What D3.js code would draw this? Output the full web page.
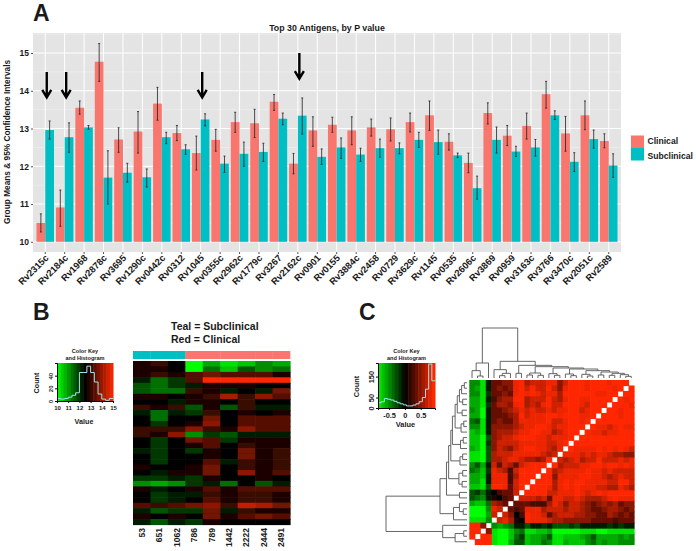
<!DOCTYPE html>
<html>
<head>
<meta charset="utf-8">
<script src="https://cdn.jsdelivr.net/npm/d3@7"></script>
<style>
  html, body { margin: 0; padding: 0; background: #fff; }
  svg { display: block; }
  text { font-family: "Liberation Sans", Arial, sans-serif; font-weight: bold; fill: #1a1a1a; }
</style>
</head>
<body>
<div id="chart"></div>
<script>
// Panel A
const antigens = ["Rv2315c","Rv2184c","Rv1968","Rv2878c","Rv3695","Rv1290c","Rv0442c","Rv0312","Rv1045","Rv0355c","Rv2962c","Rv1779c","Rv3267","Rv2162c","Rv0901","Rv0155","Rv3884c","Rv2458","Rv0729","Rv3629c","Rv1145","Rv0535","Rv2606c","Rv3869","Rv0959","Rv3163c","Rv3766","Rv3470c","Rv2051c","Rv2589"];
const clinicalMean = [10.5,10.91,13.55,14.77,12.71,12.92,13.66,12.88,12.35,12.7,13.17,13.14,13.71,12.07,12.95,13.1,12.95,13.03,12.98,13.17,13.35,12.65,12.09,13.41,12.81,13.07,13.91,12.87,13.35,12.67];
const clinicalLow = [10.26,10.41,13.38,14.25,12.37,12.35,13.22,12.68,11.9,12.4,12.9,12.76,13.48,11.8,12.53,12.9,12.57,12.8,12.67,12.91,12.95,12.43,11.83,13.12,12.55,12.72,13.54,12.4,12.97,12.49];
const clinicalHigh = [10.74,11.37,13.73,15.25,13.02,13.45,14.09,13.08,12.8,12.98,13.43,13.51,13.9,12.34,13.31,13.3,13.31,13.25,13.28,13.41,13.73,12.86,12.35,13.68,13.08,13.41,14.25,13.32,13.73,12.86];
const subclinicalMean = [12.96,12.77,13.03,11.7,11.83,11.71,12.77,12.45,13.24,12.07,12.33,12.38,13.26,13.34,12.25,12.5,12.31,12.48,12.48,12.7,12.64,12.29,11.42,12.7,12.39,12.5,13.35,12.12,12.72,12.02];
const subclinicalLow = [12.72,12.37,12.98,11.0,11.58,11.45,12.6,12.32,13.07,11.84,12.0,12.13,13.1,12.85,12.05,12.21,12.13,12.24,12.33,12.5,12.32,12.23,11.13,12.35,12.26,12.27,13.24,11.86,12.48,11.71];
const subclinicalHigh = [13.2,13.15,13.08,12.41,12.08,11.93,12.9,12.57,13.39,12.27,12.64,12.61,13.41,13.81,12.46,12.75,12.48,12.72,12.62,12.9,12.96,12.35,11.74,13.04,12.53,12.71,13.47,12.36,12.96,12.33];
const arrowAntigens = ["Rv2315c","Rv2184c","Rv1045","Rv2162c"];
const arrowTop = [14.5,14.5,14.5,15];
const arrowTip = [13.81,13.81,13.81,14.31];
const yTicksA = [10,11,12,13,14,15];
const yMinorA = [10.5,11.5,12.5,13.5,14.5,15.5];

// Panel B, intensity -9 (green) to 9 (red), one line per antigen
const sampleLabels = ["53","651","1062","786","789","1442","2222","2444","2491"];
const sampleGroups = ["Subclinical","Subclinical","Subclinical","Clinical","Clinical","Clinical","Clinical","Clinical","Clinical"];
const heatB = [
  [1,2,0,-9,-6,-8,-7,-5,-6],
  [1,1,0,-9,-4,-7,-3,-5,-4],
  [1,2,1,3,4,3,3,3,1],
  [-1,-4,-2,3,9,9,9,9,9],
  [-3,-4,-2,-1,1,1,1,0,0],
  [-3,-4,-4,2,1,-1,0,-1,4],
  [1,1,0,1,2,6,2,5,3],
  [0,0,-1,1,1,0,2,0,0],
  [2,1,2,-3,1,-3,2,-1,-1],
  [-1,-4,-1,-2,2,0,1,0,1],
  [0,-4,0,0,4,0,3,3,3],
  [0,-2,0,1,5,0,3,3,3],
  [2,2,2,5,2,1,5,3,3],
  [2,1,5,-5,-2,-3,-1,-1,-1],
  [0,-2,0,4,3,-2,1,1,1],
  [0,-2,0,1,3,0,2,1,1],
  [-1,-2,0,-2,1,0,4,1,2],
  [0,-2,0,0,1,0,4,1,2],
  [0,-2,0,0,3,-1,2,1,2],
  [1,0,0,1,4,0,2,1,2],
  [0,-1,1,1,4,0,5,1,3],
  [-2,-2,-1,-2,1,0,0,1,0],
  [-5,-6,-5,-2,-1,-4,0,-3,-1],
  [1,-1,0,1,3,1,3,3,3],
  [0,-2,-1,-1,2,1,2,2,1],
  [0,-2,-1,0,3,1,2,2,1],
  [3,2,3,4,5,2,7,6,4],
  [-1,-3,-2,-2,4,-1,2,1,1],
  [1,0,1,0,4,1,3,4,3],
  [-1,-3,-1,-2,1,0,0,0,0]
];
const histB = [4,3,4,6,9,13,45,45,55,45,30,11,3,1,4];
const histBTicks = [10,11,12,13,14,15];
const histBCount = [0,20,40];

// Panel C, upper-left triangle of the correlation map, the rest is its mirror
const heatC = [
  [-5,-5,-8,-1,3,3,4,4,7,8,5,6,6,6,7,7,4,6,8,8,8,7,8,8,8,7,8,8,8],
  [-5,-6,-8,-1,3,4,3,4,7,8,6,8,6,6,8,6,4,7,9,9,8,7,8,8,8,8,7,8],
  [-5,-5,-8,-2,3,3,4,3,7,8,7,8,7,6,7,7,5,8,9,8,8,8,8,7,7,8,8],
  [-6,-6,-8,-1,2,4,5,5,8,8,5,6,6,6,8,6,5,7,8,8,7,7,8,8,8,8],
  [-6,-6,-8,-2,3,5,5,4,7,8,5,6,5,7,8,6,6,8,9,8,7,6,8,8,8],
  [-5,-6,-9,-1,3,3,4,5,6,7,6,7,6,6,7,6,7,7,8,8,6,7,8,8],
  [-6,-6,-9,-1,3,3,3,4,5,8,6,7,7,7,8,8,7,8,8,8,7,7,8],
  [-4,-3,-8,-1,3,4,3,3,5,7,7,7,7,7,8,6,6,7,8,8,7,8],
  [-5,-5,-8,-1,4,4,4,4,5,6,7,7,8,8,7,6,7,7,8,8,8],
  [-7,-6,-8,-1,4,5,5,5,6,7,7,8,8,7,7,5,6,7,8,8],
  [-7,-7,-9,-3,4,5,6,6,7,8,8,8,7,7,6,7,7,7,8],
  [-7,-7,-9,-2,4,6,6,6,6,7,7,7,7,7,6,6,7,8],
  [-6,-7,-9,-3,4,6,5,4,6,7,8,8,7,7,6,5,7],
  [-8,-8,-9,-3,5,6,6,6,7,7,7,7,7,6,5,6],
  [-8,-8,-9,-3,5,5,6,7,7,6,5,5,4,5,8],
  [-5,-3,-6,-1,6,3,6,5,3,6,7,8,8,8],
  [-4,-5,-7,-2,7,6,5,2,6,8,8,9,9],
  [-6,-6,-7,-1,7,7,7,2,5,8,8,9],
  [-6,-6,-8,-1,7,7,7,2,6,8,9],
  [-7,-7,-8,-3,8,8,7,3,6,8],
  [-3,-2,-4,-1,0,2,3,3,6],
  [-3,-4,-5,-1,1,0,2,3],
  [-6,-7,-7,-4,5,4,3],
  [-9,-9,-9,-5,7,6],
  [-9,-9,-9,-6,6],
  [-8,-8,-8,-5],
  [9,9,4],
  [9,9],
  [9],
  []
];
// [merge height, left, right], plain numbers are leaves
const treeC = [150,
  [45,[22,0,[6,1,2]],3],
  [50,
    [25,4,[14,[7,5,6],7]],
    [38,[14,8,9],
      [34,[15,[9,10,11],[8,12,13]],
        [30,[13,14,[8,15,16]],
          [27,[12,17,[7,18,19]],
            [22,[11,20,[6,21,22]],
              [18,[9,23,24],
                [14,[8,25,26],
                  [10,27,[5,28,29]]]]]]]]]]];
const histC = [25,30,45,42,38,32,25,20,15,10,10,14,20,30,50,90,210,130];
const histCTicks = [-0.5,0,0.5];
const histCCount = [0,50,150];

const red = "#F8766D", teal = "#00BFC4";
const svg = d3.select("#chart").append("svg").attr("width", 696).attr("height", 551);
const heatColor = d3.scaleLinear().domain([-9,0,9]).range(["#00ff00","#000000","#ff2800"]);
const corrColor = d3.scaleLinear().domain([-9,0,7.5]).range(["#00ff00","#000000","#ff2800"]).clamp(true);

const soft = svg.append("defs").append("filter").attr("id", "soft");
soft.append("feGaussianBlur").attr("stdDeviation", 0.6);

function panelLetter(txt, x, y) {
    svg.append("text").attr("x", x).attr("y", y).attr("font-size", 23).text(txt);
}
panelLetter("A", 33, 21);
panelLetter("B", 33, 320);
panelLetter("C", 359, 320);

// ---- A: bars
function drawBars() {
    const x = d3.scaleBand().domain(antigens).range([33, 621]).paddingInner(0.1).paddingOuter(0.18);
    const y = d3.scaleLinear().domain([9.73, 15.53]).range([252, 33]);
    const dodge = d3.scaleBand().domain(["Clinical","Subclinical"]).range([0, x.bandwidth()]);
    const g = svg.append("g");

    g.append("rect").attr("x", 33).attr("y", 33).attr("width", 588).attr("height", 219).attr("fill", "#e4e4e4");
    g.selectAll(".minor").data(yMinorA).join("line")
     .attr("x1", 33).attr("x2", 621).attr("y1", d => y(d)).attr("y2", d => y(d))
     .attr("stroke", "#f2f2f2").attr("stroke-width", 0.6);
    g.selectAll(".major").data(yTicksA).join("line")
     .attr("x1", 33).attr("x2", 621).attr("y1", d => y(d)).attr("y2", d => y(d))
     .attr("stroke", "#fff").attr("stroke-width", 1);
    g.selectAll(".vert").data(antigens).join("line")
     .attr("x1", d => x(d) + x.bandwidth() / 2).attr("x2", d => x(d) + x.bandwidth() / 2)
     .attr("y1", 33).attr("y2", 252).attr("stroke", "#fff").attr("stroke-width", 1);

    const series = [
        { name: "Clinical", color: red, mean: clinicalMean, low: clinicalLow, high: clinicalHigh },
        { name: "Subclinical", color: teal, mean: subclinicalMean, low: subclinicalLow, high: subclinicalHigh }
    ];
    series.forEach(s => {
        const cx = i => x(antigens[i]) + dodge(s.name);
        g.append("g").selectAll("rect").data(s.mean).join("rect")
         .attr("x", (d, i) => cx(i)).attr("width", dodge.bandwidth())
         .attr("y", d => y(d)).attr("height", d => y(10) - y(d)).attr("fill", s.color);
    });
    series.forEach(s => {
        const mid = i => x(antigens[i]) + dodge(s.name) + dodge.bandwidth() / 2;
        const bars = g.append("g").attr("stroke", "#222").attr("stroke-width", 0.8);
        bars.selectAll(".stem").data(s.mean).join("line")
            .attr("x1", (d, i) => mid(i)).attr("x2", (d, i) => mid(i))
            .attr("y1", (d, i) => y(s.low[i])).attr("y2", (d, i) => y(s.high[i]));
        [s.low, s.high].forEach(vals => {
            bars.append("g").selectAll("line").data(vals).join("line")
                .attr("x1", (d, i) => mid(i) - 1).attr("x2", (d, i) => mid(i) + 1)
                .attr("y1", d => y(d)).attr("y2", d => y(d));
        });
    });

    // axes
    const ay = svg.append("g").attr("transform", "translate(33,0)")
                  .call(d3.axisLeft(y).tickValues(yTicksA).tickFormat(d => d).tickSize(2).tickPadding(2));
    ay.select(".domain").remove();
    ay.selectAll("text").attr("font-size", 8.5);
    ay.selectAll("line").attr("stroke", "#555");

    const ax = svg.append("g").attr("transform", "translate(0,252)")
                  .call(d3.axisBottom(x).tickSize(2).tickPadding(2));
    ax.select(".domain").remove();
    ax.selectAll("line").attr("stroke", "#555");
    ax.selectAll("text").attr("font-size", 9.4).attr("text-anchor", "end")
      .attr("dy", "0.5em").attr("dx", "0.1em").attr("transform", "rotate(-45,0,4)");

    svg.append("text").attr("x", 327).attr("y", 32).attr("dy", -1).attr("text-anchor", "middle")
       .attr("font-size", 8.8).text("Top 30 Antigens, by P value");
    svg.append("text").attr("transform", "translate(10,142) rotate(-90)").attr("text-anchor", "middle")
       .attr("font-size", 8.3).text("Group Means & 95% Confidence Intervals");

    // arrows
    arrowAntigens.forEach((a, i) => {
        const ax0 = x(a) + x.bandwidth() / 2 + 1.5;
        const a1 = y(arrowTop[i]), a2 = y(arrowTip[i]);
        svg.append("path")
           .attr("d", `M${ax0},${a1}V${a2 - 1}M${ax0 - 4.5},${a2 - 8}L${ax0},${a2 - 0.5}L${ax0 + 4.5},${a2 - 8}`)
           .attr("fill", "none").attr("stroke", "#000").attr("stroke-width", 2.4);
    });

    // legend
    const lg = svg.append("g");
    series.forEach((s, i) => {
        lg.append("rect").attr("x", 631).attr("y", 135.5 + i * 12.5).attr("width", 13).attr("height", 12.5).attr("fill", s.color);
        lg.append("text").attr("x", 647.5).attr("y", 144 + i * 15).attr("font-size", 8.6).text(s.name);
    });
}

// ---- colour key with histogram, used by B and C
function drawKey(opts) {
    const x = d3.scaleLinear().domain(opts.domain).range([opts.x0, opts.x1]);
    const y = d3.scaleLinear().domain([0, opts.maxCount]).range([opts.y1, opts.y0]);
    const n = 17;
    const step = (opts.domain[1] - opts.domain[0]) / n;
    const colour = d3.scaleLinear().domain([opts.mid - opts.half, opts.mid, opts.mid + opts.half])
                     .range(["#00ff00","#000000","#ff2800"]).clamp(true);
    svg.append("g").selectAll("rect").data(d3.range(n)).join("rect")
       .attr("x", i => x(opts.domain[0] + i * step)).attr("width", (opts.x1 - opts.x0) / n + 0.5)
       .attr("y", opts.y0).attr("height", opts.y1 - opts.y0)
       .attr("fill", i => colour(opts.domain[0] + (i + 0.5) * step));

    const bw = (opts.domain[1] - opts.domain[0]) / opts.hist.length;
    const line = d3.line().curve(d3.curveStepAfter)
                   .x((d, i) => x(opts.domain[0] + i * bw)).y(d => y(d));
    svg.append("path").datum(opts.hist.concat([opts.hist[opts.hist.length - 1]]))
       .attr("d", line).attr("fill", "none").attr("stroke", "#9fe3e6").attr("stroke-width", 1);

    const ax = svg.append("g").attr("transform", `translate(0,${opts.y1})`)
                  .call(d3.axisBottom(x).tickValues(opts.ticks).tickFormat(d => d).tickSize(2).tickPadding(3));
    ax.selectAll("text").attr("font-size", opts.tickSize);
    const ay = svg.append("g").attr("transform", `translate(${opts.x0},0)`)
                  .call(d3.axisLeft(y).tickValues(opts.counts).tickFormat(d => d).tickSize(2).tickPadding(2));
    ay.selectAll("text").attr("font-size", opts.tickSize).attr("text-anchor", "middle")
      .attr("x", 0).attr("dy", 0).attr("transform", "translate(-4,0) rotate(-90)");

    const cx = (opts.x0 + opts.x1) / 2;
    svg.append("text").attr("x", cx).attr("y", opts.titleY).attr("text-anchor", "middle").attr("font-size", 5.6).text("Color Key");
    svg.append("text").attr("x", cx).attr("y", opts.titleY + 6.5).attr("text-anchor", "middle").attr("font-size", 5.6).text("and Histogram");
    svg.append("text").attr("x", cx - 1).attr("y", opts.valueY).attr("text-anchor", "middle").attr("font-size", opts.labelSize).text("Value");
    svg.append("text").attr("transform", `translate(${opts.countX},${(opts.y0 + opts.y1) / 2 + 1}) rotate(-90)`)
       .attr("text-anchor", "middle").attr("font-size", opts.labelSize).text("Count");
}

// ---- B: heatmap
function drawHeatB() {
    const x = d3.scaleBand().domain(d3.range(sampleLabels.length)).range([133, 290]);
    const y = d3.scaleBand().domain(d3.range(heatB.length)).range([361, 524.5]);

    svg.append("g").selectAll("rect").data(sampleGroups).join("rect")
       .attr("x", (d, i) => x(i)).attr("width", x.bandwidth() + 0.3)
       .attr("y", 351).attr("height", 8)
       .attr("fill", d => d === "Subclinical" ? teal : red);

    const cells = heatB.flatMap((row, r) => row.map((v, c) => ({ r, c, v })));
    svg.append("g").attr("filter", "url(#soft)").selectAll("rect").data(cells).join("rect")
       .attr("x", d => x(d.c)).attr("y", d => y(d.r))
       .attr("width", x.bandwidth() + 0.6).attr("height", y.bandwidth() + 0.6)
       .attr("fill", d => heatColor(d.v));

    svg.append("g").selectAll("text").data(sampleLabels).join("text")
       .attr("transform", (d, i) => `translate(${x(i) + x.bandwidth() / 2 + 3},528) rotate(-90)`)
       .attr("text-anchor", "end").attr("font-size", 8.5).text(d => d);

    svg.append("text").attr("x", 171).attr("y", 330).attr("font-size", 10.5).text("Teal = Subclinical");
    svg.append("text").attr("x", 171).attr("y", 343).attr("font-size", 10.5).text("Red = Clinical");

    drawKey({ domain: [10,15], mid: 12.5, half: 2.5, x0: 57, x1: 113, y0: 363, y1: 401, maxCount: 60, hist: histB,
              ticks: histBTicks, counts: histBCount, tickSize: 6, labelSize: 7.2,
              titleY: 353, valueY: 424, countX: 39 });
}

// ---- C: correlation map with dendrograms
function drawHeatC() {
    const n = heatC.length;
    const x = d3.scaleBand().domain(d3.range(n)).range([469.3, 634]);
    const y = d3.scaleBand().domain(d3.range(n)).range([380, 544.5]);

    const cells = [];
    heatC.forEach((row, r) => row.forEach((v, c) => {
        cells.push({ r, c, v });
        cells.push({ r: n - 1 - c, c: n - 1 - r, v });
    }));
    svg.append("g").attr("filter", "url(#soft)").selectAll("rect").data(cells).join("rect")
       .attr("x", d => x(d.c)).attr("y", d => y(d.r))
       .attr("width", x.bandwidth() + 0.6).attr("height", y.bandwidth() + 0.6)
       .attr("fill", d => corrColor(d.v));

    const topH = d3.scaleLinear().domain([0, 150]).range([378, 328]);
    const leftH = d3.scaleLinear().domain([0, 150]).range([467, 386]);

    // returns the leaf-axis position of a node, appends its bracket on the way
    function walk(node, place) {
        if (typeof node === "number") return { pos: node + 0.5, h: 0 };
        const a = walk(node[1], place), b = walk(node[2], place);
        place(a, b, node[0]);
        return { pos: (a.pos + b.pos) / 2, h: node[0] };
    }
    const topPos = d3.scaleLinear().domain([0, n]).range(x.range());
    const leftPos = d3.scaleLinear().domain([0, n]).range([y.range()[1], y.range()[0]]);
    const dendro = svg.append("g").attr("fill", "none").attr("stroke", "#555").attr("stroke-width", 0.9);
    walk(treeC, (a, b, h) => {
        dendro.append("path").attr("d",
            `M${topPos(a.pos)},${topH(a.h)}V${topH(h)}H${topPos(b.pos)}V${topH(b.h)}`);
        dendro.append("path").attr("d",
            `M${leftH(a.h)},${leftPos(a.pos)}H${leftH(h)}V${leftPos(b.pos)}H${leftH(b.h)}`);
    });

    drawKey({ domain: [-0.85,0.95], mid: 0, half: 0.9, x0: 378, x1: 435, y0: 363, y1: 408, maxCount: 215, hist: histC,
              ticks: histCTicks, counts: histCCount, tickSize: 7.4, labelSize: 7.4,
              titleY: 353, valueY: 427, countX: 359 });
}

drawBars();
drawHeatB();
drawHeatC();
</script>
</body>
</html>
